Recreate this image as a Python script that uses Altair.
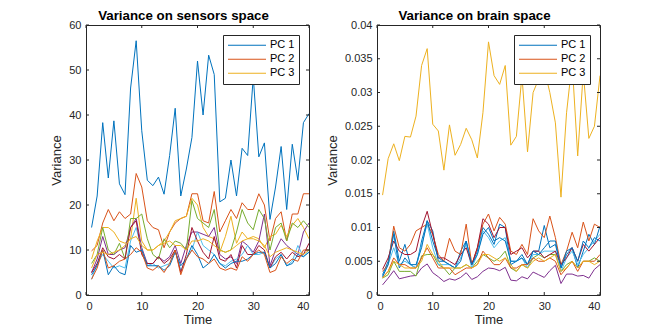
import altair as alt
import pandas as pd

time = list(range(1, 41))

# ---- sensors space (left panel) ----
s_pc1 = [15, 22, 38.3, 26, 38.7, 24.7, 22.3, 46, 56.5, 36.5, 25.5, 24.3, 26.2, 22.4, 31, 41.5, 22, 28, 35, 52,
         40, 53.3, 49, 20.7, 21.5, 30, 22, 32.6, 31, 48.5, 30.7, 33.8, 16.8, 24, 33, 19, 33.5, 25.5, 38.3, 40.3]
s_pc2 = [9.8, 11, 16, 19, 16.5, 18.5, 17, 18, 27, 24, 16.5, 15, 14.5, 10.5, 14, 16, 17, 17.5, 22.5, 22.5,
         16.5, 16, 23, 14, 16.5, 19, 17, 20.5, 19, 19, 22.5, 20, 12, 17, 18.5, 12, 18, 18, 22.5, 22.5]
s_pc3 = [8, 12, 15, 15, 14, 12, 11.5, 12.5, 21.5, 12, 10, 10, 11, 12, 14, 16.5, 17, 17.5, 21.5, 20,
         15, 13, 12.5, 9.5, 13, 17.5, 11.5, 14, 12.5, 13, 12.5, 10.5, 13, 13.5, 15.5, 13, 15.5, 17, 15, 12.5]
s_pc4 = [5, 8, 13, 9, 9, 10, 10.5, 15, 17, 10.5, 7, 7, 8.5, 7.5, 8.5, 11, 7, 11, 14, 14,
         13.5, 13, 15, 9, 8, 8.5, 7, 12, 11, 9.5, 12, 18, 6.5, 10, 12.5, 11, 10, 9, 14, 16]
s_pc5 = [7, 9, 15, 10, 9, 11.5, 8, 17, 17, 18, 12.5, 9, 8, 12.5, 10.5, 12, 11.5, 10, 21, 17,
         16, 15, 19, 10, 9.5, 10, 14, 19, 16, 14.5, 19, 17, 10, 15, 16, 12, 16, 15, 16.5, 15]
s_pc6 = [3.5, 7, 9, 7.5, 6, 6.5, 6, 12, 15, 10, 6.5, 7, 6, 6.5, 7, 10, 5.5, 8, 10, 14,
         11, 10, 9, 7, 6.5, 7.5, 8, 9, 11, 9, 9, 9.5, 6, 8, 9, 6.5, 7.5, 11, 8.5, 10]
s_pc7 = [5, 7, 10.5, 8.5, 8, 9, 8, 15, 16.5, 9, 7, 7, 8.5, 7, 8, 10, 5, 9, 15, 12,
         9.5, 8, 13, 8, 7.5, 9, 6, 11, 9, 9, 11, 10, 6, 8.5, 9.5, 8, 9.5, 8.5, 9, 11.5]
s_pc8 = [4.5, 6.5, 10, 4.5, 6.5, 5, 4.5, 11, 9.5, 10, 6.5, 6.5, 6.5, 5.5, 6.5, 9.5, 6.5, 8, 11, 9,
         6, 7, 9, 7, 6, 7, 7.5, 7.5, 8, 9, 9.5, 9.5, 6, 7, 9, 6.5, 7, 9, 8.5, 9.5]
s_pc9 = [3.5, 6, 10, 6, 6.5, 7.5, 8, 9, 10.5, 9.5, 6, 5.5, 6.5, 5, 7, 10, 4.5, 8, 10, 8.5,
         8, 7, 8, 6, 5.5, 6, 5.5, 8.5, 7.5, 9, 10, 9, 5, 5.5, 8.5, 7, 8, 7.5, 10, 10]
s_pc10 = [6, 9, 9.5, 9, 9.5, 10, 11, 12.5, 13, 11, 10, 10, 11, 11.5, 12, 11, 11, 10, 12, 12,
          12.5, 12, 11, 10, 9.5, 10, 11, 12, 12.5, 12.5, 12, 11, 8.5, 9.5, 10, 10.5, 10, 9.5, 9, 10]

# ---- brain space (right panel), listed in thousandths ----
b_pc1 = [3, 5, 9.5, 5, 7.5, 4.5, 4, 8, 11, 9.5, 5, 5, 4.5, 4, 6.5, 8, 4.5, 6.5, 10, 9,
         7.5, 10.5, 10, 4.5, 5, 6, 4.5, 6.5, 6.5, 10.3, 7, 7.5, 4, 6, 7, 4, 6.5, 9, 7.5, 10.2]
b_pc2 = [3.5, 4.5, 10.2, 7, 6.5, 7.5, 9.5, 10, 10.5, 9, 6, 5, 8.4, 6.5, 6, 10.5, 4.5, 7, 10.5, 12,
         9.5, 11.5, 10.5, 6.5, 6, 7.5, 6, 11.3, 9.5, 8.5, 11.7, 8.5, 4.5, 6.5, 9.3, 7, 10.8, 8, 10.5, 10]
b_pc3 = [14.8, 20.2, 22.4, 19.9, 23.5, 23.4, 26.5, 34, 36.5, 25.3, 24.3, 18.5, 25.2, 20.7, 22.3, 24.7, 23, 20.3, 27, 37.5,
         32.5, 31.2, 34, 22.2, 23.5, 32.5, 21.2, 30, 32, 33.5, 30, 25.5, 14.5, 27, 34.5, 20.6, 33, 23.2, 25, 32.5]
b_pc4 = [1.5, 2.5, 3.6, 2.4, 2.6, 2.8, 2.9, 4, 4.6, 3.3, 2.7, 2, 2.4, 2.2, 2.6, 3.3, 2.3, 2.7, 3.5, 4,
         3.9, 3.6, 4.1, 2.2, 2.1, 2.7, 2.4, 3.4, 3, 2.6, 3.6, 4.4, 1.7, 3.1, 3.1, 2.8, 2.9, 2.5, 3.8, 4.5]
b_pc5 = [2.5, 3, 5, 3.5, 3.5, 3.5, 2.8, 5.8, 6, 6, 4.5, 4, 3, 4, 4, 4.5, 4, 5, 6, 5.5,
         5, 5.5, 6.5, 4, 3.5, 4.5, 4, 5.5, 6, 5.5, 6, 6, 3.5, 4.5, 5, 4, 5, 5, 5.5, 5]
b_pc6 = [2.8, 4.5, 7, 4.5, 5, 4.5, 4, 7.5, 10.5, 7, 4.5, 4.5, 4.5, 4, 5.5, 7.5, 4, 6, 9.5, 8.5,
         7, 8, 8.5, 5, 5, 5.5, 4, 6, 6, 6.5, 6.5, 6.5, 3.5, 5.5, 6.5, 4.5, 6, 7, 8, 9]
b_pc7 = [3.8, 5.5, 8, 6.5, 6, 6, 6.5, 10, 12.4, 9, 5.5, 5.5, 5, 4.5, 6, 7, 4.5, 7, 11.3, 10.5,
         8.5, 10, 10, 6, 6.5, 7, 5.5, 6.5, 6.5, 5.5, 6, 6.5, 4.5, 5.5, 7, 5, 7.5, 6.5, 7.5, 8.5]
b_pc8 = [2.7, 4.5, 9, 4, 5.5, 4.5, 4.5, 7, 11, 8, 5.5, 5, 4.5, 4, 5, 8, 4.5, 6, 9, 10,
         8, 8.5, 8, 5, 5, 5.5, 4.5, 6.5, 6, 7, 8, 8, 4, 6.5, 7, 5, 8, 7, 8.5, 8]
b_pc9 = [2.6, 3.5, 5.5, 4.5, 4.5, 4, 4, 5.5, 7, 5.5, 4, 4, 4, 3, 3.5, 4, 4, 4.5, 6.5, 5.5,
         4.5, 4.5, 5.5, 4, 4, 4.5, 4.5, 5.5, 5, 5, 5.5, 5, 3, 4, 5, 3.5, 5, 5, 5, 6]
b_pc10 = [2.5, 3.5, 5, 4.5, 4, 4, 4, 5, 7.5, 6, 5, 4, 4, 4, 4, 4.5, 4, 4.5, 6, 6,
          5.5, 5, 5.5, 4.5, 3.5, 4.5, 4, 5, 5.5, 5, 5.5, 6, 3.5, 4, 5, 4, 5, 5, 4.5, 5]

series_names = ["PC %d" % i for i in range(1, 11)]
sensor_series = [s_pc1, s_pc2, s_pc3, s_pc4, s_pc5, s_pc6, s_pc7, s_pc8, s_pc9, s_pc10]
brain_series = [b_pc1, b_pc2, b_pc3, b_pc4, b_pc5, b_pc6, b_pc7, b_pc8, b_pc9, b_pc10]
brain_unit = 0.001

matlab_colors = ["#0072BD", "#D95319", "#EDB120", "#7E2F8E", "#77AC30", "#4DBEEE", "#A2142F"]
color_range = [matlab_colors[i % 7] for i in range(10)]

x_ticks = [0, 10, 20, 30, 40]
y_ticks_left = [0, 10, 20, 30, 40, 50, 60]
y_ticks_right = [0, 0.005, 0.01, 0.015, 0.02, 0.025, 0.03, 0.035, 0.04]

W, H = 223, 270
FONT = "Liberation Sans"
AX = "#262626"
TL = 3


def long_df(series, scale=1.0):
    rows = []
    for name, vals in zip(series_names, series):
        for t, v in zip(time, vals):
            rows.append({"Time": t, "Variance": v * scale, "PC": name})
    return pd.DataFrame(rows)


def panel(df, title, y_dom, y_vals, y_fmt):
    xs = alt.Scale(domain=[0, 40], nice=False, zero=False)
    ys = alt.Scale(domain=y_dom, nice=False, zero=False)
    x_axis = alt.Axis(values=x_ticks, ticks=False, domain=False, grid=False, labelOverlap=False,
                      labelFontSize=11, labelFont=FONT, labelColor=AX, labelPadding=5,
                      title="Time", titleFontSize=13, titleFont=FONT, titleFontWeight="normal",
                      titleColor=AX, titlePadding=2)
    y_axis = alt.Axis(values=y_vals, ticks=False, domain=False, grid=False, format=y_fmt,
                      labelOverlap=False,
                      labelFontSize=11, labelFont=FONT, labelColor=AX, labelPadding=5,
                      title="Variance", titleFontSize=13, titleFont=FONT, titleFontWeight="normal",
                      titleColor=AX, titlePadding=5)
    X = lambda: alt.X("Time:Q", scale=xs, axis=x_axis)
    Y = lambda: alt.Y("Variance:Q", scale=ys, axis=y_axis)
    lines = alt.Chart(df).mark_line(strokeWidth=1, clip=True).encode(
        x=X(), y=Y(),
        color=alt.Color("PC:N", scale=alt.Scale(domain=series_names, range=color_range),
                        legend=alt.Legend(values=["PC 1", "PC 2", "PC 3"], title=None,
                                          orient="top-right", offset=10, symbolType="stroke",
                                          symbolSize=1444, symbolStrokeWidth=1.2,
                                          clipHeight=12.5, rowPadding=1,
                                          labelFont=FONT, labelFontSize=11, labelColor="#000",
                                          strokeColor=AX, fillColor="white", padding=4,
                                          labelOffset=3)),
        detail="PC:N",
    )
    xt = pd.DataFrame({"Time": x_ticks})
    yt = pd.DataFrame({"Variance": y_vals})
    bottom = alt.Chart(xt).mark_rule(color=AX, strokeWidth=1).encode(
        x=X(), y=alt.value(H), y2=alt.value(H - TL))
    top = alt.Chart(xt).mark_rule(color=AX, strokeWidth=1).encode(
        x=X(), y=alt.value(0), y2=alt.value(TL))
    left = alt.Chart(yt).mark_rule(color=AX, strokeWidth=1).encode(
        y=Y(), x=alt.value(0), x2=alt.value(TL))
    right = alt.Chart(yt).mark_rule(color=AX, strokeWidth=1).encode(
        y=Y(), x=alt.value(W - TL), x2=alt.value(W))
    return alt.layer(lines, bottom, top, left, right).properties(
        width=W, height=H,
        title=alt.TitleParams(title, font=FONT, fontSize=13.3, fontWeight="bold", color="#000",
                              offset=-3, anchor="middle", dx=-14),
    )


left_chart = panel(long_df(sensor_series), "Variance on sensors space", [0, 60], y_ticks_left, "d")
right_chart = panel(long_df(brain_series, brain_unit), "Variance on brain space", [0, 0.04], y_ticks_right, "~g")

chart = alt.hconcat(left_chart, right_chart, spacing=15).resolve_scale(
    color="independent", x="independent", y="independent"
).resolve_legend(color="independent").configure_view(
    stroke=AX, strokeWidth=1
).properties(
    padding={"left": 42, "top": 0, "right": 5, "bottom": 5}, background="white"
)

chart.save("out.html", embed_options={"renderer": "svg", "actions": False})
